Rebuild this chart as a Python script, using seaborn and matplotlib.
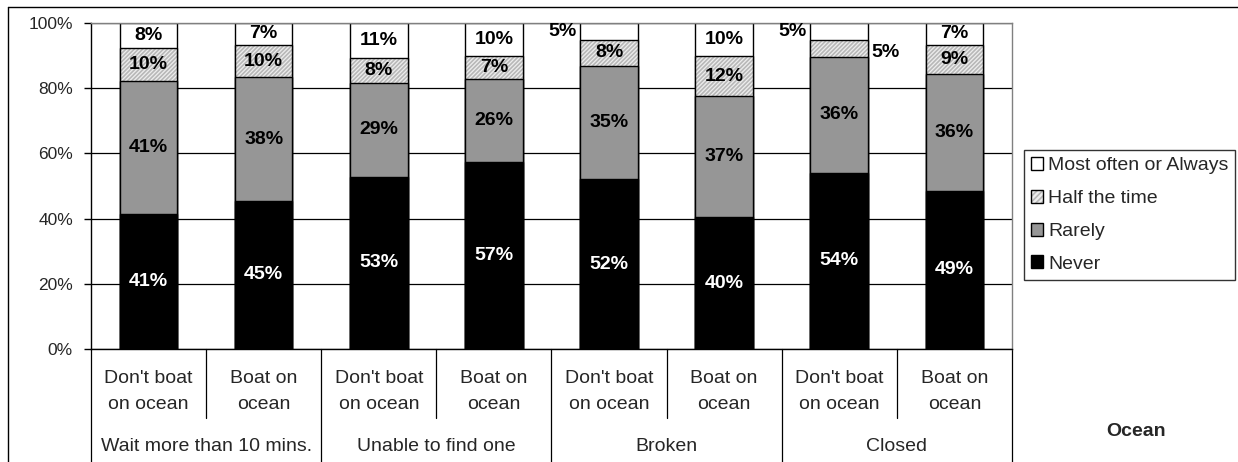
import numpy as np
import pandas as pd
import seaborn as sns
import matplotlib.pyplot as plt
from matplotlib.lines import Line2D
from matplotlib.patches import Patch

# data (percent of respondents)
groups = ["Wait more than 10 mins.", "Unable to find one", "Broken", "Closed"]
boaters = ["Don't boat\non ocean", "Boat on\nocean"]
levels = ["Never", "Rarely", "Half the time", "Most often or Always"]

never = [41.4, 45.4, 52.8, 57.3, 52.1, 40.4, 54.1, 48.6]
rarely = [40.8, 37.9, 28.9, 25.6, 34.6, 37.1, 35.6, 35.7]
half = [10.0, 10.0, 7.7, 7.0, 8.2, 12.4, 5.0, 9.0]
most = [7.8, 6.7, 10.6, 10.1, 5.1, 10.1, 5.3, 6.7]

bar_ids = [f"{g}|{b}" for g in groups for b in boaters]
df = pd.DataFrame({"bar": bar_ids, "Never": never, "Rarely": rarely,
                   "Half the time": half, "Most often or Always": most})
cum = df[levels].cumsum(axis=1)
for lv in levels:
    df["top_" + lv] = cum[lv]

sns.set_style("white")
plt.rcParams['font.family'] = ['Liberation Sans', 'DejaVu Sans']
plt.rcParams['hatch.linewidth'] = 1.2

fig = plt.figure(figsize=(12.38, 4.62), dpi=100)
ax = fig.add_axes([0.0735, 0.2446, 0.7439, 0.7056])

GRAY = "#969696"
HATCH = "#b8b8b8"
HATCH_BG = "#eeeeee"
W = 0.5

# stacked bars drawn as overlapping cumulative bars, tallest first
sns.barplot(data=df, x="bar", y="top_Most often or Always", color="white",
            edgecolor="black", linewidth=1, width=W, saturation=1,
            errorbar=None, ax=ax)
sns.barplot(data=df, x="bar", y="top_Half the time", color=HATCH_BG,
            edgecolor=HATCH, linewidth=0, width=W, saturation=1,
            hatch="////////", errorbar=None, ax=ax)
sns.barplot(data=df, x="bar", y="top_Half the time", color="black",
            fill=False, linewidth=1, width=W, errorbar=None, ax=ax)
sns.barplot(data=df, x="bar", y="top_Rarely", color=GRAY,
            edgecolor="black", linewidth=1, width=W, saturation=1,
            errorbar=None, ax=ax)
sns.barplot(data=df, x="bar", y="top_Never", color="black",
            edgecolor="black", linewidth=1, width=W, saturation=1,
            errorbar=None, ax=ax)

# value labels
for i, row in df.iterrows():
    bottom = 0
    for lv in levels:
        v = row[lv]
        txt = f"{v:.0f}%"
        col = "white" if lv == "Never" else "black"
        y = bottom + v / 2
        if v < 6 and lv == "Most often or Always":
            ax.text(i - W / 2 - 0.03, y, txt, ha="right", va="center",
                    fontsize=14, fontweight="bold", color="black")
        elif v < 6 and lv == "Half the time":
            ax.text(i + W / 2 + 0.03, y - 1.2, txt, ha="left", va="center",
                    fontsize=14, fontweight="bold", color="black")
        else:
            ax.text(i, y, txt, ha="center", va="center",
                    fontsize=14, fontweight="bold", color=col)
        bottom += v

ax.set_xlim(-0.5, 7.5)
ax.set_ylim(0, 100)
ax.set_yticks(np.arange(0, 101, 20))
ax.set_yticklabels([f"{t}%" for t in range(0, 101, 20)], fontsize=12.5)
ax.tick_params(axis="y", length=5, width=1, color="black", pad=8, left=True)
ax.set_xticks(range(len(bar_ids)))
ax.set_xticklabels(boaters * len(groups), fontsize=14, linespacing=1.7)
ax.tick_params(axis="x", length=0, pad=15)
ax.set_xlabel("")
ax.set_ylabel("")
ax.yaxis.grid(True, color="black", linewidth=0.9)
ax.set_axisbelow(True)
for s in ["top", "right"]:
    ax.spines[s].set_color("#808080")
    ax.spines[s].set_linewidth(1)
for s in ["left", "bottom"]:
    ax.spines[s].set_color("black")
    ax.spines[s].set_linewidth(1)

# category separators below the axis
trans = ax.get_xaxis_transform()
for x in [0.5, 2.5, 4.5, 6.5]:
    ax.plot([x, x], [0, -0.212], color="black", lw=0.9, transform=trans, clip_on=False)
for x in [-0.5, 1.5, 3.5, 5.5, 7.5]:
    ax.plot([x, x], [0, -0.4], color="black", lw=0.9, transform=trans, clip_on=False)
for k, g in enumerate(groups):
    ax.text(2 * k + 0.5, -0.30, g, transform=trans, ha="center", va="center", fontsize=14)

# legend
handles = [Patch(facecolor="white", edgecolor="black", lw=1),
           (Patch(facecolor=HATCH_BG, edgecolor=HATCH, lw=0, hatch="//////"),
            Patch(facecolor="none", edgecolor="black", lw=1)),
           Patch(facecolor=GRAY, edgecolor="black", lw=1),
           Patch(facecolor="black", edgecolor="black", lw=1)]
leg = fig.legend(handles, levels[::-1], loc="upper left",
                 bbox_to_anchor=(1024 / 1238, 1 - 150 / 462),
                 fontsize=14, frameon=True, fancybox=False, framealpha=1,
                 edgecolor="#333333", handlelength=0.65, handleheight=0.65,
                 handletextpad=0.25, labelspacing=0.8, borderpad=0.35,
                 borderaxespad=0)
leg.get_frame().set_linewidth(1)

fig.text(1136 / 1238, 1 - 432 / 462, "Ocean", ha="center", va="center",
         fontsize=14, fontweight="bold")

# outer chart frame
fig.add_artist(Line2D([8 / 1238, 8 / 1238], [0, 1 - 7 / 462], color="black", lw=1))
fig.add_artist(Line2D([8 / 1238, 1], [1 - 7 / 462, 1 - 7 / 462], color="black", lw=1))

fig.savefig("out.png", dpi=100)
